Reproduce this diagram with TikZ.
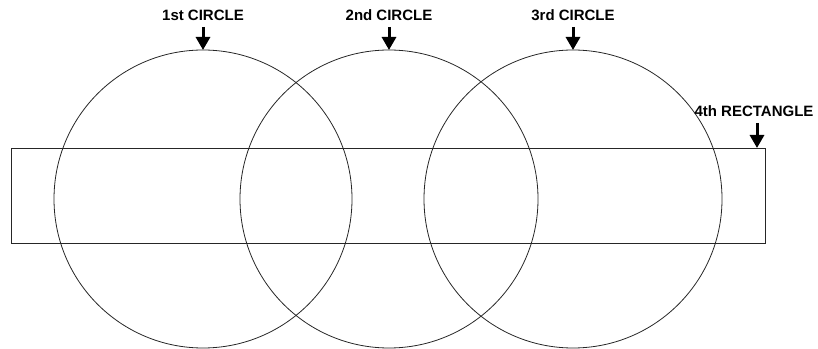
\documentclass[tikz,border=0pt]{standalone}
\usepackage{fontspec}
\setmainfont{Liberation Sans}
\usetikzlibrary{arrows.meta,positioning}

\begin{document}
\begin{tikzpicture}[
  x=1pt, y=1pt,
  ring/.style={draw=black!85, line width=0.8pt, circle, minimum size=298pt, inner sep=0pt, outer sep=0pt},
  bar/.style={draw=black!85, line width=0.8pt, rectangle, minimum width=754pt, minimum height=95pt, inner sep=0pt, outer sep=0pt},
  tag/.style={font=\fontsize{15}{17}\selectfont\bfseries, inner sep=0pt},
  pointer/.style={-{Triangle[width=14pt,length=13pt]}, line width=3pt, shorten <=6pt}
]
  \useasboundingbox (0,0) rectangle (818,348);

  % Circles and rectangle
  \node (c1) [ring] at (203,149) {};
  \node (c2) [ring] at (389,149) {};
  \node (c3) [ring] at (573,149) {};
  \node (rect) [bar] at (388,152.5) {};

  % Labels above
  \node (l1) [tag, above=29pt of c1.north] {1st CIRCLE};
  \node (l2) [tag, above=29pt of c2.north] {2nd CIRCLE};
  \node (l3) [tag, above=29pt of c3.north] {3rd CIRCLE};
  \coordinate (r4) at ([xshift=-8pt]rect.north east);
  \node (l4) [tag, above=31pt of r4, xshift=-3pt] {4th RECTANGLE};

  % Arrows
  \draw[pointer] (l1.south) -- (c1.north);
  \draw[pointer] (l2.south) -- (c2.north);
  \draw[pointer] (l3.south) -- (c3.north);
  \draw[pointer] (l4.south -| r4) -- (r4);
\end{tikzpicture}
\end{document}
